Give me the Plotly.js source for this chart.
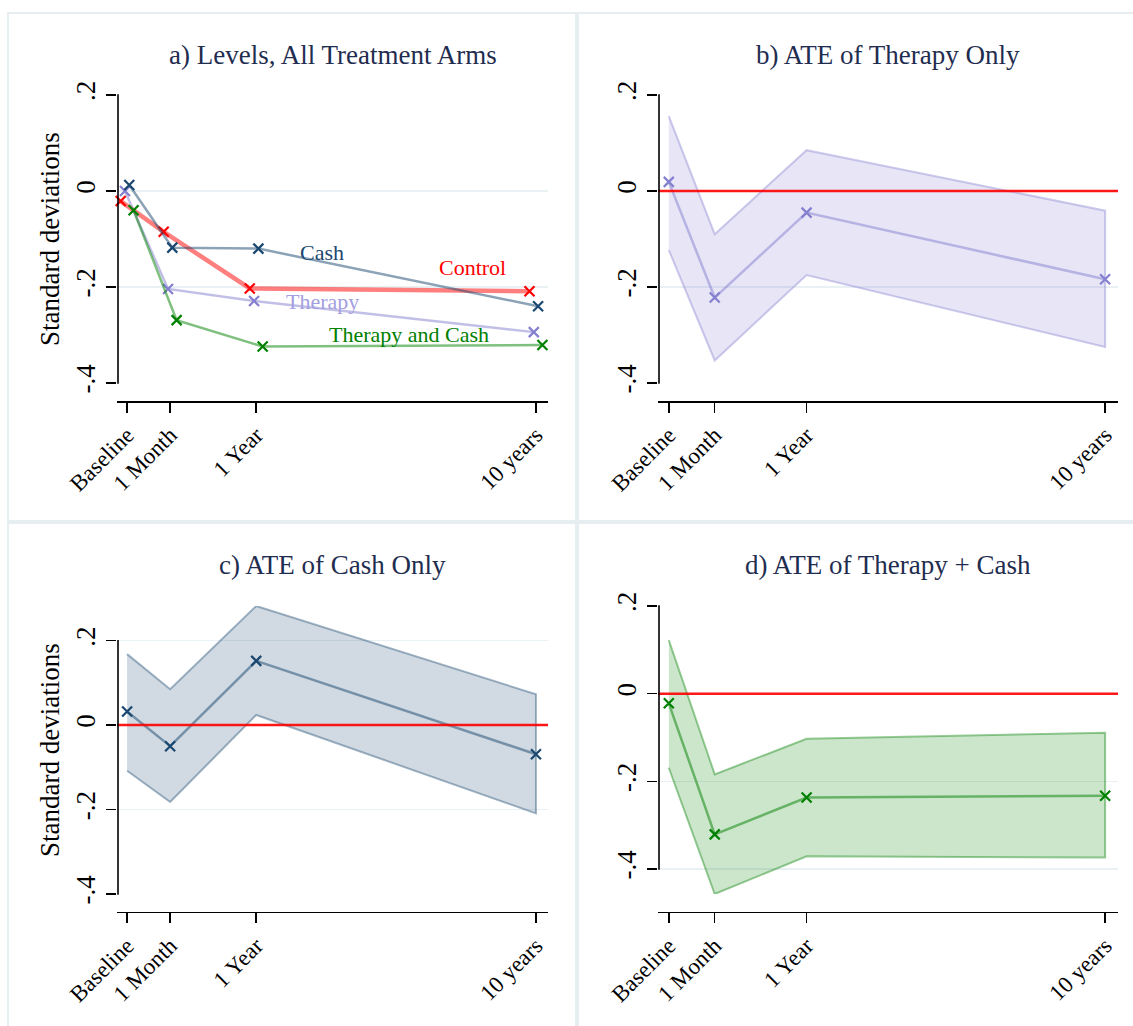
<!DOCTYPE html>
<html>
<head>
<meta charset="utf-8">
<script src="https://cdn.plot.ly/plotly-3.0.1.min.js"></script>
<style>html,body{margin:0;padding:0;background:#fff;}#chart{width:1133px;height:1026px;}</style>
</head>
<body>
<div id="chart"></div>
<script>
// ---------- data ----------
const periods = ['Baseline', '1 Month', '1 Year', '10 years'];
const periodX = [0, 1, 3, 9.5];

const levelControl = [-0.021, -0.085, -0.203, -0.209];
const levelTherapy = [0.000, -0.204, -0.229, -0.294];
const levelCash = [0.0125, -0.118, -0.120, -0.240];
const levelTherapyCash = [-0.040, -0.269, -0.324, -0.321];

const ateTherapy = [0.019, -0.222, -0.045, -0.184];
const ateTherapyLow = [-0.123, -0.353, -0.175, -0.325];
const ateTherapyHigh = [0.156, -0.090, 0.085, -0.041];

const ateCash = [0.032, -0.050, 0.152, -0.069];
const ateCashLow = [-0.108, -0.182, 0.024, -0.209];
const ateCashHigh = [0.168, 0.085, 0.282, 0.073];

const ateBoth = [-0.022, -0.321, -0.237, -0.233];
const ateBothLow = [-0.169, -0.457, -0.371, -0.374];
const ateBothHigh = [0.122, -0.184, -0.103, -0.089];

const yTickVals = [-0.4, -0.2, 0, 0.2];
const yTickText = ['-.4', '-.2', '0', '.2'];

// ---------- styling ----------
const W = 1133, H = 1026;
const px = v => v / W;
const py = v => (H - v) / H;
const SERIF = 'Liberation Serif';
const C = {
  control: [255, 0, 0],
  therapy: [133, 127, 208],
  cash: [26, 71, 111],
  both: [0, 128, 0]
};
const rgba = (c, a) => `rgba(${c[0]},${c[1]},${c[2]},${a})`;
const titleColor = '#1f2d50';

const jitter = {control: -0.15, therapy: -0.05, cash: 0.05, both: 0.15};

function series(y, col, xa, ya, off, lw) {
  return {
    type: 'scatter', mode: 'lines+markers',
    x: periodX.map(v => v + (off || 0)), y: y,
    xaxis: xa, yaxis: ya,
    line: {color: rgba(col, 0.5), width: lw || 2.5},
    marker: {symbol: 'x-thin', size: 10, color: rgba(col, 1), line: {color: rgba(col, 1), width: 2.2}},
    hoverinfo: 'skip', cliponaxis: false
  };
}
function band(lo, hi, col, xa, ya) {
  return {
    type: 'scatter', mode: 'lines', fill: 'toself',
    x: periodX.concat(periodX.slice().reverse()),
    y: hi.concat(lo.slice().reverse()),
    xaxis: xa, yaxis: ya,
    fillcolor: rgba(col, 0.2),
    line: {color: rgba(col, 0.4), width: 2},
    hoverinfo: 'skip'
  };
}

const traces = [
  series(levelControl, C.control, 'x', 'y', jitter.control, 4.5),
  series(levelTherapy, C.therapy, 'x', 'y', jitter.therapy),
  series(levelCash, C.cash, 'x', 'y', jitter.cash),
  series(levelTherapyCash, C.both, 'x', 'y', jitter.both),
  band(ateTherapyLow, ateTherapyHigh, C.therapy, 'x2', 'y2'),
  series(ateTherapy, C.therapy, 'x2', 'y2'),
  band(ateCashLow, ateCashHigh, C.cash, 'x3', 'y3'),
  series(ateCash, C.cash, 'x3', 'y3'),
  band(ateBothLow, ateBothHigh, C.both, 'x4', 'y4'),
  series(ateBoth, C.both, 'x4', 'y4')
];

function yRange(lists) {
  const all = [].concat(...lists);
  return [Math.min(yTickVals[0], Math.min(...all)), Math.max(yTickVals[yTickVals.length - 1], Math.max(...all))];
}

const xRange = [-0.235, 9.78];
const colDom = [[px(117), px(548)], [px(658), px(1118)]];
const rowDom = [[py(383), py(95)], [py(894), py(606)]];
const xPos = [py(401), py(911.7)];

const yRanges = [
  yRange([levelControl, levelTherapy, levelCash, levelTherapyCash]),
  yRange([ateTherapyLow, ateTherapyHigh]),
  yRange([ateCashLow, ateCashHigh]),
  yRange([ateBothLow, ateBothHigh])
];
const panelCol = [0, 1, 0, 1];
const panelRow = [0, 0, 1, 1];

function xaxis(col, row) {
  return {
    domain: colDom[col], range: xRange, anchor: 'free', position: xPos[row],
    showgrid: false, zeroline: false, showline: true, linecolor: '#000', linewidth: 1.5,
    ticks: 'outside', ticklen: 10, tickwidth: 1.5, tickcolor: '#000',
    tickvals: periodX, ticktext: periods, tickangle: -45,
    tickfont: {family: SERIF, size: 23, color: '#000'}, fixedrange: true
  };
}
function yaxis(row, range, anchor) {
  return {
    domain: rowDom[row], range: range, anchor: anchor,
    showgrid: true, gridcolor: '#eaf1f4', gridwidth: 1.5, zeroline: false, showline: false,
    ticks: 'outside', ticklen: 10, tickwidth: 1.5, tickcolor: '#000',
    tickvals: yTickVals, ticktext: yTickText, tickangle: -90,
    tickfont: {family: SERIF, size: 27, color: '#000'}, fixedrange: true
  };
}

const borderColor = '#e6eef1';
const shapes = [
  {type: 'rect', xref: 'paper', yref: 'paper', x0: px(8), x1: px(576), y0: py(521), y1: py(13), line: {color: borderColor, width: 2}},
  {type: 'rect', xref: 'paper', yref: 'paper', x0: px(578), x1: 1.05, y0: py(521), y1: py(13), line: {color: borderColor, width: 2}},
  {type: 'rect', xref: 'paper', yref: 'paper', x0: px(8), x1: px(576), y0: -0.05, y1: py(523), line: {color: borderColor, width: 2}},
  {type: 'rect', xref: 'paper', yref: 'paper', x0: px(578), x1: 1.05, y0: -0.05, y1: py(523), line: {color: borderColor, width: 2}}
];
['2', '3', '4'].forEach(s => {
  shapes.push({type: 'line', xref: 'x' + s + ' domain', yref: 'y' + s, x0: 0, x1: 1,
    y0: 0, y1: 0, line: {color: 'rgba(255,0,0,0.9)', width: 2.5}, layer: 'above'});
});
// y-axis lines spanning only the labelled tick range, set just inside the plot edge
yRanges.forEach((r, i) => {
  const d = rowDom[panelRow[i]];
  const toPaper = v => d[0] + (v - r[0]) / (r[1] - r[0]) * (d[1] - d[0]);
  const xp = colDom[panelCol[i]][0] + px(1);
  shapes.push({type: 'line', xref: 'paper', yref: 'paper', x0: xp, x1: xp,
    y0: toPaper(yTickVals[0]) - 0.0007, y1: toPaper(yTickVals[yTickVals.length - 1]) + 0.0007,
    line: {color: '#000', width: 1.6}, layer: 'above'});
});

const panelTitles = ['a) Levels, All Treatment Arms', 'b) ATE of Therapy Only', 'c) ATE of Cash Only', 'd) ATE of Therapy + Cash'];
const titleY = [py(55), py(55), py(565), py(565)];
const annotations = panelTitles.map((t, i) => ({
  text: t, xref: ['x', 'x2', 'x3', 'x4'][i] + ' domain', x: 0.5, yref: 'paper', y: titleY[i],
  xanchor: 'center', yanchor: 'middle', showarrow: false,
  font: {family: SERIF, size: 27, color: titleColor}
}));
rowDom.forEach(d => {
  annotations.push({text: 'Standard deviations', textangle: -90, xref: 'paper', x: px(50), yref: 'paper',
    y: (d[0] + d[1]) / 2, xanchor: 'center', yanchor: 'middle', showarrow: false,
    font: {family: SERIF, size: 27, color: '#000'}});
});
const seriesLabels = [
  {text: 'Cash', x: 4.53, y: -0.128, color: rgba(C.cash, 1)},
  {text: 'Control', x: 8.02, y: -0.160, color: rgba(C.control, 1)},
  {text: 'Therapy', x: 4.53, y: -0.230, color: '#a39ee0'},
  {text: 'Therapy and Cash', x: 6.56, y: -0.298, color: rgba(C.both, 1)}
];
seriesLabels.forEach(l => annotations.push({
  text: l.text, xref: 'x', yref: 'y', x: l.x, y: l.y, xanchor: 'center', yanchor: 'middle',
  showarrow: false, font: {family: SERIF, size: 22, color: l.color}
}));

const layout = {
  width: W, height: H, margin: {l: 0, r: 0, t: 0, b: 0},
  paper_bgcolor: '#fff', plot_bgcolor: 'rgba(0,0,0,0)', showlegend: false,
  xaxis: xaxis(0, 0), xaxis2: xaxis(1, 0), xaxis3: xaxis(0, 1), xaxis4: xaxis(1, 1),
  yaxis: yaxis(0, yRanges[0], 'x'),
  yaxis2: yaxis(0, yRanges[1], 'x2'),
  yaxis3: yaxis(1, yRanges[2], 'x3'),
  yaxis4: yaxis(1, yRanges[3], 'x4'),
  shapes: shapes, annotations: annotations
};

Plotly.newPlot('chart', traces, layout, {displayModeBar: false, staticPlot: true});
</script>
</body>
</html>
